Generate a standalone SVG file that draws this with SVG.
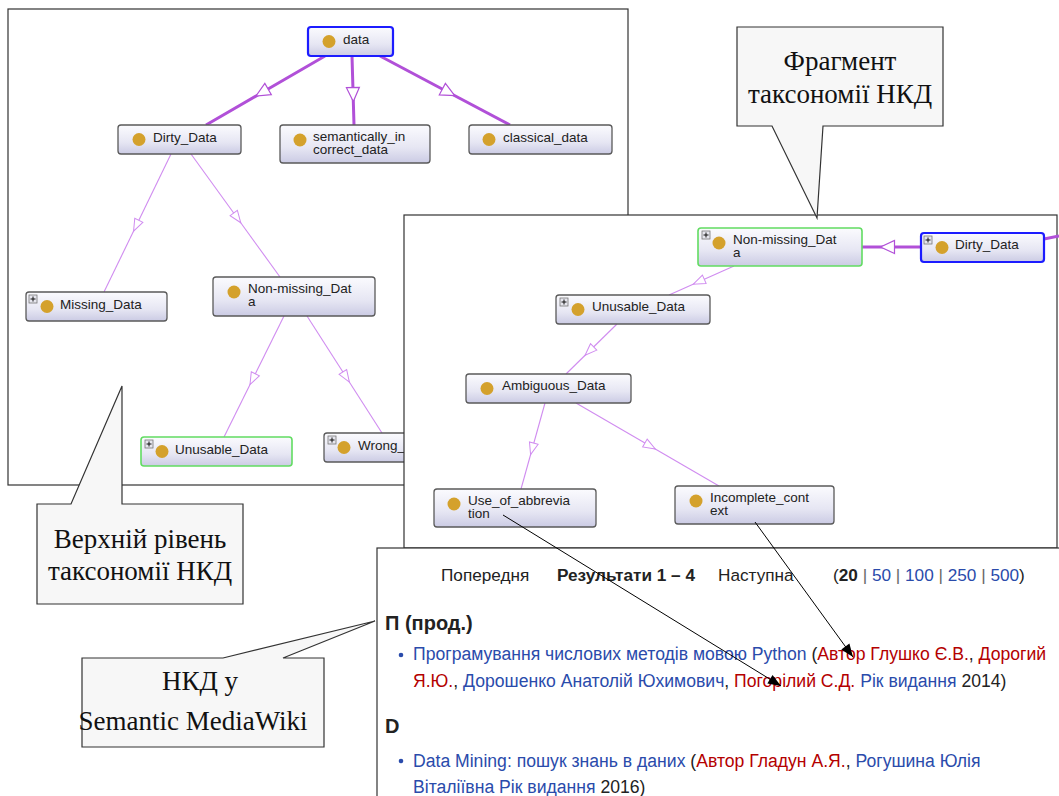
<svg xmlns="http://www.w3.org/2000/svg" width="1059" height="796" viewBox="0 0 1059 796">
<style>
.panel{fill:#fff;stroke:#333;stroke-width:1.2}
.node rect.box{fill:url(#ng);stroke:#5a5a5a;stroke-width:1.3}
.node rect.blue{stroke:#1c1cff;stroke-width:2.2}
.node rect.green{stroke:#62dc62;stroke-width:1.6}
.dot{fill:#d4a12c}
.nt{font-family:"Liberation Sans",Arial,sans-serif;font-size:13.5px;fill:#222}
.pl rect{fill:#e6e6ee;stroke:#777;stroke-width:0.8}
.pl path{stroke:#111;stroke-width:1}
.thick{fill:none;stroke:#b150d8;stroke-width:3;marker-mid:url(#arT)}
.thin{fill:none;stroke:#d08cf0;stroke-width:1.1;marker-mid:url(#arN)}
.blk{fill:none;stroke:#000;stroke-width:1;marker-end:url(#arB)}
.call{fill:#f7f7f7;stroke:#333;stroke-width:1.2}
.ct{font-family:"Liberation Serif","Times New Roman",serif;font-size:27px;fill:#111;text-anchor:middle}
.wt{font-family:"Liberation Sans",Arial,sans-serif;font-size:17.6px;fill:#222}
.hd{font-size:17.2px}
.b{fill:#2a4bab}.r{fill:#b40000}.k{fill:#222}.g{fill:#666}
.bold{font-weight:bold}
</style>
<defs>
<linearGradient id="ng" x1="0" y1="0" x2="0" y2="1">
<stop offset="0" stop-color="#fbfbfe"/>
<stop offset="0.6" stop-color="#e6e6f3"/>
<stop offset="1" stop-color="#cbcbe4"/>
</linearGradient>
<marker id="arT" markerUnits="userSpaceOnUse" markerWidth="14" markerHeight="13" viewBox="0 0 14 13" refX="3" refY="6.5" orient="auto" overflow="visible">
<path d="M0,0 L14,6.5 L0,13 Z" fill="#fff" stroke="#b150d8" stroke-width="1.2"/>
</marker>
<marker id="arN" markerUnits="userSpaceOnUse" markerWidth="12" markerHeight="9" viewBox="0 0 12 9" refX="3" refY="4.5" orient="auto" overflow="visible">
<path d="M0,0 L12,4.5 L0,9 Z" fill="#fff" stroke="#d08cf0" stroke-width="1"/>
</marker>
<marker id="arB" markerUnits="userSpaceOnUse" markerWidth="13" markerHeight="10" viewBox="0 0 13 10" refX="13" refY="5" orient="auto" overflow="visible">
<path d="M0,0 L13,5 L0,10 Z" fill="#000"/>
</marker>
</defs>

<!-- panels -->
<rect class="panel" x="8" y="9" width="620" height="476"/>

<g id="edges-left">
<polyline class="thick" points="325,56 265.5,90.5 206,125"/>
<polyline class="thick" points="352,56 353,90.5 354,125"/>
<polyline class="thick" points="380,56 445,90.5 510,125"/>
<polyline class="thin" points="171,154 137.5,223 104,292"/>
<polyline class="thin" points="191,154 235.5,215.5 280,277"/>
<polyline class="thin" points="284,316 254,376.5 224,437"/>
<polyline class="thin" points="307,316 344.5,374.5 382,433"/>
</g>

<g id="n-data" class="node"><rect class="box blue" x="308" y="27" width="85" height="29" rx="3"/><circle class="dot" cx="329" cy="41.5" r="6.5"/><text class="nt" x="343" y="44">data</text></g>
<g id="n-dirty-l" class="node"><rect class="box" x="118" y="125" width="123" height="29" rx="3"/><circle class="dot" cx="139" cy="139.5" r="6.5"/><text class="nt" x="153" y="142">Dirty_Data</text></g>
<g id="n-semantic" class="node"><rect class="box" x="280" y="125" width="150" height="38" rx="3"/><circle class="dot" cx="300" cy="140" r="6.5"/><text class="nt" x="313" y="141">semantically_in</text><text class="nt" x="313" y="154">correct_data</text></g>
<g id="n-classical" class="node"><rect class="box" x="469" y="125" width="143" height="29" rx="3"/><circle class="dot" cx="489" cy="139.5" r="6.5"/><text class="nt" x="503" y="142">classical_data</text></g>
<g id="n-missing" class="node"><rect class="box" x="26" y="292" width="141" height="29" rx="3"/><g class="pl"><rect x="29" y="295" width="8" height="8"/><path d="M30.5,299 H35.5 M33,296.5 V301.5"/></g><circle class="dot" cx="47" cy="306.5" r="6.5"/><text class="nt" x="60" y="309">Missing_Data</text></g>
<g id="n-nonmissing-l" class="node"><rect class="box" x="213" y="277" width="162" height="39" rx="3"/><circle class="dot" cx="234" cy="292" r="6.5"/><text class="nt" x="248" y="293">Non-missing_Dat</text><text class="nt" x="248" y="306">a</text></g>
<g id="n-unusable-l" class="node"><rect class="box green" x="141" y="437" width="151" height="29" rx="3"/><g class="pl"><rect x="145" y="440" width="8" height="8"/><path d="M146.5,444 H151.5 M149,441.5 V446.5"/></g><circle class="dot" cx="162" cy="451.5" r="6.5"/><text class="nt" x="175" y="454">Unusable_Data</text></g>
<g id="n-wrong" class="node"><rect class="box" x="324" y="433" width="120" height="29" rx="3"/><g class="pl"><rect x="328" y="436" width="8" height="8"/><path d="M329.5,440 H334.5 M332,437.5 V442.5"/></g><circle class="dot" cx="344" cy="447.5" r="6.5"/><text class="nt" x="358" y="450">Wrong_</text></g>

<rect class="panel" x="404" y="215" width="653" height="333"/>

<g id="edges-right">
<polyline class="thick" points="921,247 891.5,247 862,247"/>
<line x1="1044" y1="239" x2="1059" y2="236" stroke="#b150d8" stroke-width="3"/>
<polyline class="thin" points="734,266 701.5,280.5 669,295"/>
<polyline class="thin" points="617,324 591.5,349 566,374"/>
<polyline class="thin" points="545,403 533,446 521,489"/>
<polyline class="thin" points="576,403 647.5,444.5 719,486"/>
</g>

<g id="n-nonmissing-r" class="node"><rect class="box green" x="698" y="228" width="164" height="38" rx="3"/><g class="pl"><rect x="702" y="231" width="8" height="8"/><path d="M703.5,235 H708.5 M706,232.5 V237.5"/></g><circle class="dot" cx="719" cy="243" r="6.5"/><text class="nt" x="733" y="244">Non-missing_Dat</text><text class="nt" x="733" y="257">a</text></g>
<g id="n-dirty-r" class="node"><rect class="box blue" x="921" y="233" width="123" height="29" rx="3"/><g class="pl"><rect x="924" y="236" width="8" height="8"/><path d="M925.5,240 H930.5 M928,237.5 V242.5"/></g><circle class="dot" cx="942" cy="247.5" r="6.5"/><text class="nt" x="955" y="249">Dirty_Data</text></g>
<g id="n-unusable-r" class="node"><rect class="box" x="556" y="295" width="154" height="29" rx="3"/><g class="pl"><rect x="560" y="298" width="8" height="8"/><path d="M561.5,302 H566.5 M564,299.5 V304.5"/></g><circle class="dot" cx="578" cy="309.5" r="6.5"/><text class="nt" x="592" y="311">Unusable_Data</text></g>
<g id="n-ambiguous" class="node"><rect class="box" x="466" y="374" width="165" height="29" rx="3"/><circle class="dot" cx="487" cy="388.5" r="6.5"/><text class="nt" x="502" y="390">Ambiguous_Data</text></g>
<g id="n-abbrev" class="node"><rect class="box" x="434" y="489" width="162" height="38" rx="3"/><circle class="dot" cx="454" cy="504" r="6.5"/><text class="nt" x="468" y="505">Use_of_abbrevia</text><text class="nt" x="468" y="518">tion</text></g>
<g id="n-incomplete" class="node"><rect class="box" x="675" y="486" width="159" height="38" rx="3"/><circle class="dot" cx="696" cy="501" r="6.5"/><text class="nt" x="710" y="502">Incomplete_cont</text><text class="nt" x="710" y="515">ext</text></g>

<rect class="panel" x="377" y="548" width="690" height="260"/>

<g id="wiki">
<text class="wt hd" y="581"><tspan x="441" class="k">Попередня</tspan><tspan x="557" class="k bold">Результати 1 – 4</tspan><tspan x="718" class="k">Наступна</tspan><tspan x="833" class="k">(</tspan><tspan class="k bold">20</tspan><tspan class="g"> | </tspan><tspan class="b">50</tspan><tspan class="g"> | </tspan><tspan class="b">100</tspan><tspan class="g"> | </tspan><tspan class="b">250</tspan><tspan class="g"> | </tspan><tspan class="b">500</tspan><tspan class="k">)</tspan></text>
<text class="wt bold" x="385" y="630" style="font-size:20px">П (прод.)</text>
<circle cx="401" cy="655" r="2.3" fill="#2a4bab"/>
<text class="wt" x="413" y="660"><tspan class="b">Програмування числових методів мовою Python</tspan><tspan class="k"> (</tspan><tspan class="r">Автор Глушко Є.В.</tspan><tspan class="k">, </tspan><tspan class="r">Дорогий</tspan></text>
<text class="wt" x="413" y="687"><tspan class="r">Я.Ю.</tspan><tspan class="k">, </tspan><tspan class="b">Дорошенко Анатолій Юхимович</tspan><tspan class="k">, </tspan><tspan class="r">Погорілий С.Д.</tspan><tspan class="b"> Рік видання</tspan><tspan class="k"> 2014)</tspan></text>
<text class="wt bold" x="385" y="733" style="font-size:20px">D</text>
<circle cx="401" cy="761" r="2.3" fill="#2a4bab"/>
<text class="wt" x="413" y="767"><tspan class="b">Data Mining: пошук знань в даних</tspan><tspan class="k"> (</tspan><tspan class="r">Автор Гладун А.Я.</tspan><tspan class="k">, </tspan><tspan class="b">Рогушина Юлія</tspan></text>
<text class="wt" x="413" y="793"><tspan class="b">Віталіївна Рік видання</tspan><tspan class="k"> 2016)</tspan></text>
</g>

<g id="connectors">
<line class="blk" x1="503" y1="515" x2="781" y2="686"/>
<line class="blk" x1="755" y1="522" x2="853" y2="657"/>
</g>

<g id="callout-fragment">
<path class="call" d="M737,27 H943 V126 H823 L817,218 L772,126 H737 Z"/>
<text class="ct" x="840" y="70">Фрагмент</text>
<text class="ct" x="840" y="103">таксономії НКД</text>
</g>
<g id="callout-top">
<path class="call" d="M37,504 H71 L122,386 V504 H243 V604 H37 Z"/>
<text class="ct" x="140" y="548">Верхній рівень</text>
<text class="ct" x="140" y="580">таксономії НКД</text>
</g>
<g id="callout-smw">
<path class="call" d="M82,658 H223 L375,621 L283,658 H324 V747 H82 Z"/>
<text class="ct" x="200" y="690">НКД у</text>
<text class="ct" x="193" y="730">Semantic MediaWiki</text>
</g>
</svg>
